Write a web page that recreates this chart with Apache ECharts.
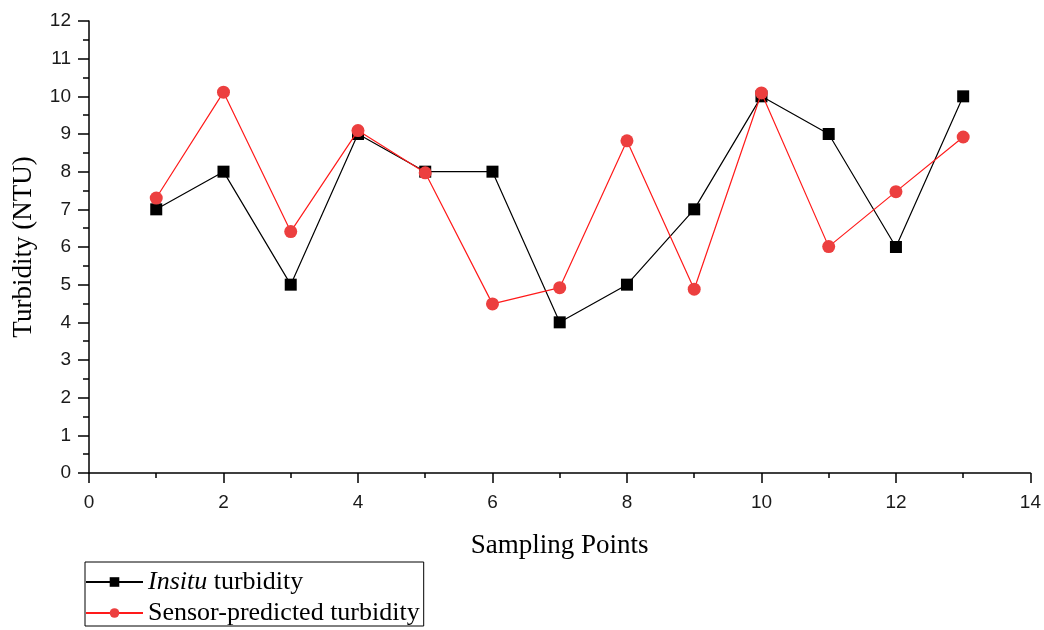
<!DOCTYPE html>
<html>
<head>
<meta charset="utf-8">
<script src="https://cdn.jsdelivr.net/npm/echarts@6/dist/echarts.min.js"></script>
<style>
  html, body { margin: 0; padding: 0; background: #fff; }
  #chart { width: 1044px; height: 630px; }
</style>
</head>
<body>
<div id="chart"></div>
<script>
const samplingPoints = [1, 2, 3, 4, 5, 6, 7, 8, 9, 10, 11, 12, 13];
const insituTurbidity = [7, 8, 5, 9, 8, 8, 4, 5, 7, 10, 9, 6, 10];
const sensorTurbidity = [7.30, 10.11, 6.41, 9.09, 7.97, 4.49, 4.92, 8.82, 4.88, 10.09, 6.01, 7.47, 8.92];
const seriesNames = ['Insitu turbidity', 'Sensor-predicted turbidity'];
const xAxisName = 'Sampling Points';
const yAxisName = 'Turbidity (NTU)';

const serif = '"Liberation Serif", "Times New Roman", serif';
const sans = '"Liberation Sans", Arial, sans-serif';

const chart = echarts.init(document.getElementById('chart'), null, { renderer: 'canvas' });

const pairs = (ys) => samplingPoints.map((x, i) => [x, ys[i]]);

chart.setOption({
  animation: false,
  backgroundColor: '#fff',
  grid: { left: 89, right: 13, top: 21, bottom: 157, containLabel: false },
  xAxis: {
    type: 'value',
    min: 0, max: 14, interval: 2,
    name: xAxisName,
    nameLocation: 'middle',
    nameGap: 59,
    nameTextStyle: { fontFamily: serif, fontSize: 27, color: '#000' },
    axisLine: { show: true, onZero: false, lineStyle: { color: '#000', width: 1.5 } },
    axisTick: { show: true, inside: false, length: 10, lineStyle: { color: '#000', width: 1.5 } },
    minorTick: { show: true, splitNumber: 2, length: 5, lineStyle: { color: '#000', width: 1.5 } },
    axisLabel: { fontFamily: sans, fontSize: 19, color: '#1a1a1a', margin: 20 },
    splitLine: { show: false },
    minorSplitLine: { show: false }
  },
  yAxis: {
    type: 'value',
    min: 0, max: 12, interval: 1,
    name: yAxisName,
    nameLocation: 'middle',
    nameRotate: 90,
    nameGap: 52,
    nameTextStyle: { fontFamily: serif, fontSize: 27, color: '#000' },
    axisLine: { show: true, onZero: false, lineStyle: { color: '#000', width: 1.5 } },
    axisTick: { show: true, inside: false, length: 11, lineStyle: { color: '#000', width: 1.5 } },
    minorTick: { show: true, splitNumber: 2, length: 6, lineStyle: { color: '#000', width: 1.5 } },
    axisLabel: { fontFamily: sans, fontSize: 19, color: '#1a1a1a', margin: 18 },
    splitLine: { show: false },
    minorSplitLine: { show: false }
  },
  legend: {
    orient: 'vertical',
    left: 85,
    top: 562,
    height: 68,
    padding: [7, 4, 0, 0],
    itemGap: 5,
    itemWidth: 57,
    itemHeight: 12,
    backgroundColor: '#fff',
    borderColor: '#000',
    borderWidth: 1,
    borderRadius: 0,
    data: seriesNames,
    formatter: function (name) {
      if (name === seriesNames[0]) {
        return '{i|Insitu} {n|turbidity}';
      }
      return '{n|' + name + '}';
    },
    textStyle: {
      fontFamily: serif, fontSize: 26, color: '#000', lineHeight: 26,
      rich: {
        i: { fontFamily: serif, fontSize: 26, fontStyle: 'italic', color: '#000', lineHeight: 26 },
        n: { fontFamily: serif, fontSize: 26, color: '#000', lineHeight: 26 }
      }
    }
  },
  series: [
    {
      name: seriesNames[0],
      type: 'line',
      data: pairs(insituTurbidity),
      symbol: 'rect',
      symbolSize: 12,
      itemStyle: { color: '#000' },
      lineStyle: { color: '#000', width: 1.2 },
      z: 2
    },
    {
      name: seriesNames[1],
      type: 'line',
      data: pairs(sensorTurbidity),
      symbol: 'circle',
      symbolSize: 13,
      itemStyle: { color: '#ec3f3f' },
      lineStyle: { color: '#ff1a1a', width: 1.2 },
      z: 3
    }
  ]
});
</script>
</body>
</html>
